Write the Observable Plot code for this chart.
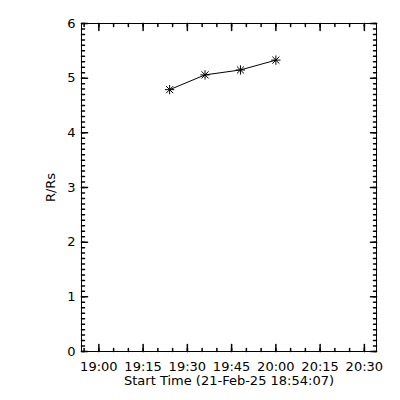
<!DOCTYPE html>
<html>
<head>
<meta charset="utf-8">
<script src="https://cdn.jsdelivr.net/npm/d3@7"></script>
<script src="https://cdn.jsdelivr.net/npm/@observablehq/plot@0.6"></script>
<style>
  html, body { margin: 0; padding: 0; background: #fff; }
</style>
</head>
<body>
<div id="chart"></div>
<script>
// Data
const times = ["2025-02-21T19:24:00Z", "2025-02-21T19:36:00Z", "2025-02-21T19:48:00Z", "2025-02-21T20:00:00Z"];
const heights = [4.79, 5.06, 5.15, 5.33];

const xStart = "2025-02-21T18:54:07Z";
const xEnd = "2025-02-21T20:34:07Z";
const xMajorTicks = ["19:00", "19:15", "19:30", "19:45", "20:00", "20:15", "20:30"];
const yMajorTicks = [0, 1, 2, 3, 4, 5, 6];
const xLabel = "Start Time (21-Feb-25 18:54:07)";
const yLabel = "R/Rs";

const toDate = (hm) => new Date(`2025-02-21T${hm}:00Z`);
const data = times.map((t, i) => ({time: new Date(t), r: heights[i]}));
const xMajor = xMajorTicks.map(toDate);
const xMinor = d3.utcMinute.every(5).range(new Date(xStart), new Date(xEnd));
const yMinor = d3.range(0, 60.5).map(v => v / 10);

const fmt = d3.utcFormat("%H:%M");
const tickShape = {draw(ctx, l) { ctx.moveTo(0, 0); ctx.lineTo(0, -l); }};

const chart = Plot.plot({
  width: 400,
  height: 400,
  marginLeft: 81,
  marginRight: 24,
  marginTop: 23,
  marginBottom: 49,
  style: {fontFamily: "DejaVu Sans", fontSize: "13px", color: "black", background: "white"},
  x: {type: "utc", domain: [new Date(xStart), new Date(xEnd)]},
  y: {domain: [0, 6]},
  marks: [
    Plot.frame({stroke: "black"}),
    // bottom axis labels
    Plot.axisX(xMajor, {anchor: "bottom", tickSize: 0, tickPadding: 10, tickFormat: fmt,
      label: xLabel, labelAnchor: "center", labelOffset: 33, labelArrow: "none"}),
    Plot.axisY(yMajorTicks, {anchor: "left", tickSize: 0, tickPadding: 6, tickFormat: "d",
      label: yLabel, labelAnchor: "center", labelOffset: 36, labelArrow: "none"}),
    // inward tick marks (bottom, top)
    Plot.vector(xMajor, {x: d => d, frameAnchor: "bottom", length: 7, anchor: "start", rotate: 0, shape: tickShape, stroke: "black"}),
    Plot.vector(xMinor, {x: d => d, frameAnchor: "bottom", length: 3, anchor: "start", rotate: 0, shape: tickShape, stroke: "black"}),
    Plot.vector(xMajor, {x: d => d, frameAnchor: "top", length: 7, anchor: "start", rotate: 180, shape: tickShape, stroke: "black"}),
    Plot.vector(xMinor, {x: d => d, frameAnchor: "top", length: 3, anchor: "start", rotate: 180, shape: tickShape, stroke: "black"}),
    // inward tick marks (left, right)
    Plot.vector(yMajorTicks, {y: d => d, frameAnchor: "left", length: 6, anchor: "start", rotate: 90, shape: tickShape, stroke: "black"}),
    Plot.vector(yMinor, {y: d => d, frameAnchor: "left", length: 3, anchor: "start", rotate: 90, shape: tickShape, stroke: "black"}),
    Plot.vector(yMajorTicks, {y: d => d, frameAnchor: "right", length: 6, anchor: "start", rotate: -90, shape: tickShape, stroke: "black"}),
    Plot.vector(yMinor, {y: d => d, frameAnchor: "right", length: 3, anchor: "start", rotate: -90, shape: tickShape, stroke: "black"}),
    // data
    Plot.line(data, {x: "time", y: "r", stroke: "black", strokeWidth: 1}),
    Plot.dot(data, {x: "time", y: "r", symbol: "plus", r: 3.1, stroke: "black", strokeWidth: 1}),
    Plot.dot(data, {x: "time", y: "r", symbol: "times", r: 3.3, stroke: "black", strokeWidth: 1})
  ]
});
document.getElementById("chart").appendChild(chart);
</script>
</body>
</html>
